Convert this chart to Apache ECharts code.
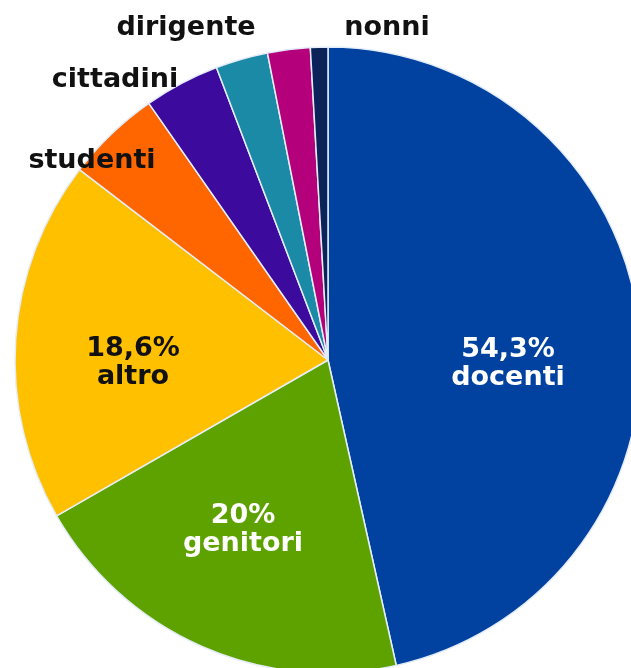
<!DOCTYPE html>
<html>
<head>
<meta charset="utf-8">
<script src="https://cdn.jsdelivr.net/npm/echarts@6/dist/echarts.min.js"></script>
<style>
  html, body { margin: 0; padding: 0; background: #fff; }
  #chart { width: 631px; height: 668px; }
</style>
</head>
<body>
<div id="chart"></div>
<script>
// categorie e valori
const categories = ['docenti', 'genitori', 'altro', 'studenti', 'cittadini', 'dirigente', '', 'nonni'];
const values = [46.5, 20.2, 18.7, 4.9, 3.9, 2.7, 2.2, 0.9];
// testi delle etichette come stampati
const labelTexts = ['54,3%\ndocenti', '20%\ngenitori', '18,6%\naltro', 'studenti', 'cittadini', 'dirigente', '', 'nonni'];

const colors = ['#0142a0', '#5ea200', '#ffc000', '#ff6600', '#3c0a9c', '#1a8aa6', '#b4007b', '#0b2358'];
const labelColors = ['#ffffff', '#ffffff', '#111111', '#111111', '#111111', '#111111', '#111111', '#111111'];
// centro etichette (px)
const labelPos = [[508, 364], [243, 530], [133, 363], [92, 161], [115, 80], [186, 28], [0, -100], [387, 28]];

const chart = echarts.init(document.getElementById('chart'));

const option = {
  animation: false,
  series: [
    {
      type: 'pie',
      center: [328, 360],
      radius: 313,
      startAngle: 90,
      clockwise: true,
      avoidLabelOverlap: false,
      itemStyle: {
        borderColor: '#e4edf9',
        borderWidth: 1.5
      },
      label: {
        show: true,
        position: 'inside',
        fontFamily: 'DejaVu Sans',
        fontWeight: 'bold',
        fontSize: 27,
        lineHeight: 28,
        align: 'center'
      },
      labelLine: { show: false },
      labelLayout: (params) => {
        const p = labelPos[params.dataIndex];
        return { x: p[0], y: p[1], align: 'center', verticalAlign: 'middle' };
      },
      emphasis: { disabled: true },
      data: categories.map((name, i) => ({
        name: name,
        value: values[i],
        itemStyle: { color: colors[i] },
        label: {
          formatter: labelTexts[i],
          color: labelColors[i],
          show: labelTexts[i] !== ''
        }
      }))
    }
  ]
};

chart.setOption(option);
</script>
</body>
</html>
